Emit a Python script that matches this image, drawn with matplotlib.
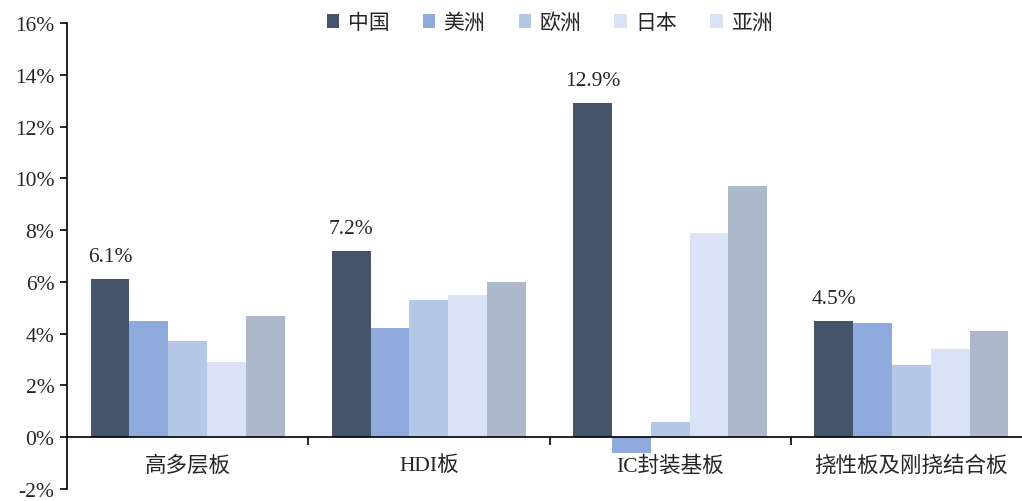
import matplotlib
matplotlib.use("Agg")
import matplotlib.pyplot as plt
import numpy as np
from matplotlib.patches import Patch

plt.rcParams['font.family'] = ['Liberation Serif', 'Noto Sans CJK SC']

categories = ['高多层板', 'HDI板', 'IC封装基板', '挠性板及刚挠结合板']
series_names = ['中国', '美洲', '欧洲', '日本', '亚洲']
china = [6.1, 7.2, 12.9, 4.5]
americas = [4.5, 4.2, -0.6, 4.4]
europe = [3.7, 5.3, 0.6, 2.8]
japan = [2.9, 5.5, 7.9, 3.4]
asia = [4.7, 6.0, 9.7, 4.1]
china_labels = ['6.1%', '7.2%', '12.9%', '4.5%']
y_ticks = [-2, 0, 2, 4, 6, 8, 10, 12, 14, 16]

colors = ['#44546A', '#8FAADC', '#B4C7E7', '#DAE3F3', '#ADB9CA']
legend_colors = ['#44546A', '#8FAADC', '#B4C7E7', '#DAE3F3', '#DAE3F3']
series = [china, americas, europe, japan, asia]

fig = plt.figure(figsize=(10.22, 5.02), dpi=100)
ax = fig.add_axes([67 / 1022, 12 / 502, 965 / 1022, 466 / 502])

x = np.arange(len(categories))
n = len(series)
group_w = 0.805
bw = group_w / n
for i, (vals, c) in enumerate(zip(series, colors)):
    offs = (i - (n - 1) / 2) * bw
    ax.bar(x + offs, vals, width=bw, color=c, edgecolor='none', zorder=2)

for xi, v, lab in zip(x, china, china_labels):
    ax.text(xi - 2 * bw, v + 0.5, lab, ha='center', va='bottom', fontsize=15.5, color='#262626')

ax.set_xlim(-0.5, 3.5)
ax.set_ylim(-2, 16)
ax.set_yticks(y_ticks)
ax.set_yticklabels([f'{t}%' for t in y_ticks], fontsize=15.5, color='#262626')
ax.tick_params(axis='y', direction='out', length=5, width=1.2, pad=4)

for s in ['top', 'right']:
    ax.spines[s].set_visible(False)
ax.spines['left'].set_linewidth(1.2)
ax.spines['bottom'].set_position(('data', 0))
ax.spines['bottom'].set_linewidth(1.2)
ax.spines['bottom'].set_zorder(3)

ax.set_xticks([0.5, 1.5, 2.5])
ax.set_xticklabels([])
ax.tick_params(axis='x', which='major', direction='out', length=6, width=1.2)
ax.set_xticks(x, minor=True)
ax.set_xticklabels(categories, minor=True, fontsize=15.5, color='#262626')
ax.tick_params(axis='x', which='minor', length=0, pad=13)

handles = [Patch(facecolor=c, edgecolor='none') for c in legend_colors]
fig.legend(handles, series_names, loc='upper center', bbox_to_anchor=(0.538, 1.008),
           ncol=5, frameon=False, fontsize=15, handlelength=0.6, handleheight=0.6,
           handletextpad=0.4, columnspacing=1.6, labelcolor='#262626')

fig.savefig('out.png', dpi=100)
